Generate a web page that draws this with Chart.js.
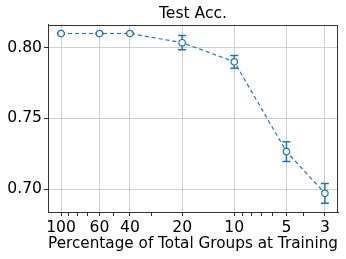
<!DOCTYPE html>
<html>
<head>
<meta charset="utf-8">
<script src="https://cdn.jsdelivr.net/npm/chart.js@4/dist/chart.umd.min.js"></script>
<style>
  html, body { margin: 0; padding: 0; background: #fff; }
  #wrap { width: 346px; height: 259px; }
</style>
</head>
<body>
<div id="wrap"><canvas id="acc"></canvas></div>
<script>
// percentage of total groups used at training
const groups = [100, 60, 40, 20, 10, 5, 3];
// test accuracy and its error
const acc = [0.810, 0.810, 0.810, 0.8035, 0.790, 0.7265, 0.697];
const accErr = [0.0005, 0.0005, 0.0005, 0.005, 0.0045, 0.007, 0.007];
const minorTicks = [90, 80, 70, 50, 30, 9, 8, 7, 6, 4];
const yTicks = [0.70, 0.75, 0.80];

const $canvas = document.querySelector("#acc");
const blue = '#1f77b4';
const font = { family: "'DejaVu Sans', sans-serif", size: 15.6 };

let points = groups.map((g, i) => ({ x: g, y: acc[i] }));

// error bars, positioned through the chart scales
let errorBars = {
  id: 'errorBars',
  beforeDatasetsDraw(chart)
  {
    let ctx = chart.ctx;
    let xs = chart.scales.x;
    let ys = chart.scales.y;
    ctx.save();
    ctx.strokeStyle = blue;
    ctx.lineWidth = 1.5;
    groups.forEach((g, i) =>
    {
      let x = xs.getPixelForValue(g);
      let top = ys.getPixelForValue(acc[i] + accErr[i]);
      let bot = ys.getPixelForValue(acc[i] - accErr[i]);
      ctx.beginPath();
      ctx.moveTo(x, top); ctx.lineTo(x, bot);
      ctx.moveTo(x - 4, top); ctx.lineTo(x + 4, top);
      ctx.moveTo(x - 4, bot); ctx.lineTo(x + 4, bot);
      ctx.stroke();
    });
    ctx.restore();
  }
};

// box around the plot area
let frame = {
  id: 'frame',
  afterDraw(chart)
  {
    let a = chart.chartArea;
    let ctx = chart.ctx;
    ctx.save();
    ctx.strokeStyle = '#333';
    ctx.lineWidth = 1;
    ctx.strokeRect(Math.round(a.left) + 0.5, Math.round(a.top) + 0.5,
      Math.round(a.right - a.left) - 1, Math.round(a.bottom - a.top));
    ctx.restore();
  }
};

let config = {
  type: 'line',
  data: {
    datasets: [{
      label: 'Test Acc.',
      data: points,
      borderColor: blue,
      backgroundColor: '#fff',
      borderWidth: 1.2,
      borderDash: [4, 3],
      pointRadius: 3.2,
      pointBorderWidth: 1.2,
      pointBackgroundColor: '#fff',
      pointBorderColor: blue,
      tension: 0
    }]
  },
  options: {
    responsive: true,
    maintainAspectRatio: false,
    animation: false,
    events: [],
    layout: { padding: { left: 0, right: 8, top: 0, bottom: 0 } },
    plugins: {
      legend: { display: false },
      tooltip: { enabled: false },
      title: {
        display: true,
        text: 'Test Acc.',
        fullSize: false,
        color: '#000',
        font: { family: font.family, size: 15.6, weight: 'normal' },
        padding: { top: 5, bottom: 1 }
      }
    },
    scales: {
      x: {
        type: 'logarithmic',
        reverse: true,
        min: 2.52,
        max: 118.9,
        afterBuildTicks: (scale) =>
        {
          scale.ticks = groups.concat(minorTicks).map(v => ({ value: v, major: groups.includes(v) }));
        },
        afterFit: (scale) => { scale.height = 47; },
        ticks: {
          autoSkip: false,
          maxRotation: 0,
          padding: 3,
          color: '#000',
          font: font,
          callback: (v) => groups.includes(v) ? String(v) : ''
        },
        grid: {
          color: (c) => (c.tick && groups.includes(c.tick.value)) ? '#d0d0d0' : 'rgba(0,0,0,0)',
          tickColor: '#333',
          tickLength: 4,
          lineWidth: 1
        },
        border: { color: '#333' },
        title: {
          display: true,
          text: 'Percentage of Total Groups at Training',
          color: '#000',
          font: font,
          padding: { top: 0, bottom: 6 }
        }
      },
      y: {
        min: 0.6838,
        max: 0.8162,
        afterBuildTicks: (scale) =>
        {
          scale.ticks = yTicks.map(v => ({ value: v }));
        },
        afterFit: (scale) => { scale.width = 48; },
        ticks: {
          padding: 2,
          color: '#000',
          font: font,
          callback: (v) => v.toFixed(2)
        },
        grid: {
          color: '#d0d0d0',
          tickColor: '#333',
          tickLength: 4,
          lineWidth: 1
        },
        border: { color: '#333' }
      }
    }
  },
  plugins: [errorBars, frame]
};

let chart = new Chart($canvas, config);
</script>
</body>
</html>
